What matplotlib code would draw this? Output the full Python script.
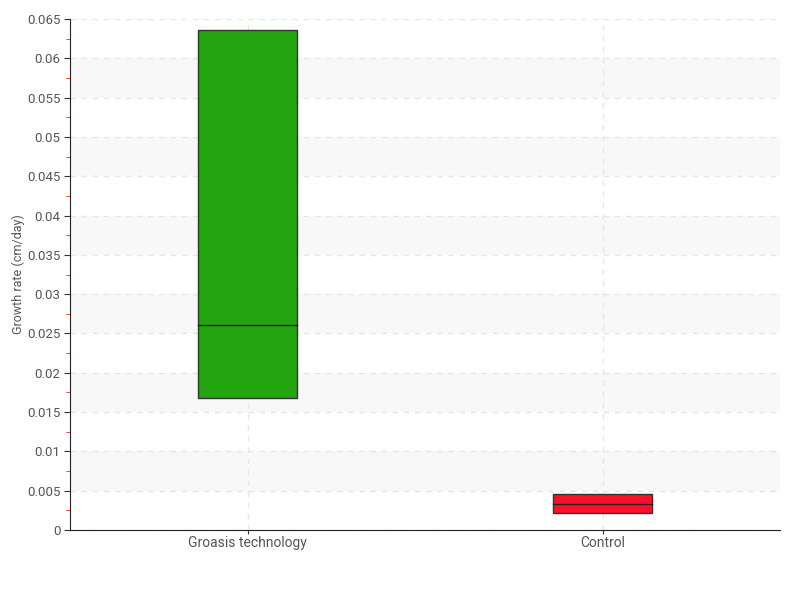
import matplotlib
matplotlib.use("Agg")
import matplotlib.pyplot as plt
import matplotlib.patches as patches
from matplotlib.ticker import MultipleLocator

plt.rcParams['font.family'] = ['Roboto', 'DejaVu Sans']

# box data (q1, median, q3), cm/day
categories = ['Groasis technology', 'Control']
q1 = [0.0168, 0.00216]
median = [0.0261, 0.00337]
q3 = [0.0636, 0.00458]
colors = ['#22a50e', '#ff1028']

fig = plt.figure(figsize=(8, 6), dpi=100)
ax = fig.add_axes([70 / 800, 70 / 600, 710 / 800, 511 / 600])

ymax = 0.065
ax.set_ylim(0, ymax)
ax.set_xlim(-0.5, len(categories) - 0.5)

# alternating bands
for k in range(13):
    lo = k * 0.005
    if k % 2 == 1:
        ax.axhspan(lo, lo + 0.005, color='#f8f8f8', zorder=0, lw=0)

ax.yaxis.set_major_locator(MultipleLocator(0.005))
ax.yaxis.set_minor_locator(MultipleLocator(0.0025))
ax.grid(True, which='major', axis='both', color='#e6e6e6', ls=(0, (4, 4)), lw=1, zorder=0.5)

width = 0.28
for i in range(len(categories)):
    rect = patches.Rectangle((i - width / 2, q1[i]), width, q3[i] - q1[i],
                             facecolor=colors[i], edgecolor='#333333', lw=1, zorder=3)
    ax.add_patch(rect)
    ax.plot([i - width / 2, i + width / 2], [median[i], median[i]], color='#222222', lw=1, zorder=4)

ax.set_xticks(range(len(categories)))
ax.set_xticklabels(categories)
ax.set_yticks([k * 0.005 for k in range(14)])
ax.set_yticklabels(['0'] + ['%g' % round(k * 0.005, 3) for k in range(1, 14)])

for s in ['top', 'right']:
    ax.spines[s].set_visible(False)
ax.spines['left'].set_color('#222222')
ax.spines['bottom'].set_color('#222222')

ax.tick_params(axis='both', which='major', direction='out', length=4, color='#333333',
               labelsize=9.5, labelcolor='#555555', pad=3)
ax.tick_params(axis='x', which='major', length=3, pad=1, labelsize=10)
ax.tick_params(axis='y', which='minor', direction='out', length=3, color='#ff2020')
ax.set_ylabel('Growth rate (cm/day)', fontsize=9, color='#555555')
ax.yaxis.set_label_coords(-45 / 710, 0.5)

fig.savefig('out.png', dpi=100)
